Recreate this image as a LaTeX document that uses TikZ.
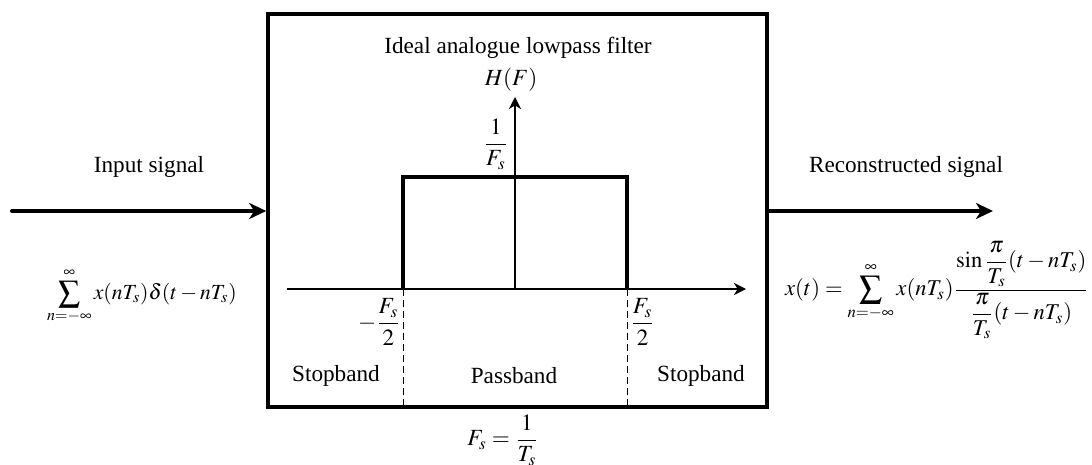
\documentclass[tikz,border=0pt]{standalone}
\usepackage{amsmath}
\usepackage{mathptmx}
\usepackage[no-math]{fontspec}
\setmainfont{Liberation Serif}
\usetikzlibrary{arrows.meta}
\begin{document}
\begin{tikzpicture}[x=0.5pt,y=-0.5pt,
  font=\fontsize{11.6}{14}\selectfont,
  lbl/.style={inner sep=0pt},
  sig/.style={line width=2pt,line cap=round,-{Stealth[length=8.5pt,width=8pt,inset=2.5pt]}},
  axis/.style={line width=1pt,-{Stealth[length=6pt,width=6pt,inset=1.8pt]}},
  resp/.style={line width=1.8pt},
  band/.style={line width=0.5pt,dash pattern=on 3.5pt off 2pt}]
\useasboundingbox (0,0) rectangle (1092,465);
% filter box
\node[draw,line width=1.8pt,minimum width=249.5pt,minimum height=196.5pt,inner sep=0pt] (filter) at (517.5,210.5) {};
% signals
\coordinate (inS) at (12,211);
\coordinate (outE) at (993,211);
\draw[sig] (inS) -- (inS -| filter.west);
\draw[sig] (outE -| filter.east) -- (outE);
% axes
\coordinate (o) at (515,289);
\coordinate (xl) at (287,289);
\coordinate (xr) at (746,289);
\coordinate (yt) at (515,97);
\draw[axis] (xl) -- (xr);
\draw[axis] (o) -- (yt);
% response
\coordinate (a) at (403,289);
\coordinate (b) at (403,177);
\coordinate (c) at (627,177);
\coordinate (d) at (627,289);
\draw[resp] (a) -- (b) -- (c) -- (d);
\draw[band] (a) -- (a |- filter.south);
\draw[band] (d) -- (d |- filter.south);
% texts
\node[lbl] (title) at (518,48) {Ideal analogue lowpass filter};
\node[lbl] (hf) at (511,80) {$H(F)$};
\node[lbl] (amp) at (496,144) {$\dfrac{1}{F_s}$};
\node[lbl,anchor=east] (fl) at (401,322) {$-\dfrac{F_s}{2}$};
\node[lbl,anchor=west] (fr) at (630,322) {$\dfrac{F_s}{2}$};
\node[lbl] (sb1) at (336,376) {Stopband};
\node[lbl] (pb) at (514,376) {Passband};
\node[lbl] (sb2) at (701,376) {Stopband};
\node[lbl] (fs) at (503,440) {$F_s=\dfrac{1}{T_s}$};
\node[lbl] (insig) at (149,167) {Input signal};
\node[lbl] (outsig) at (906,167) {Reconstructed signal};
\node[lbl,font=\fontsize{10.8}{13}\selectfont] (inf) at (142,296) {$\displaystyle\sum_{n=-\infty}^{\infty} x(nT_s)\delta(t-nT_s)$};
\node[lbl,font=\fontsize{11.3}{13}\selectfont] (outf) at (937,290) {$x(t)=\displaystyle\sum_{n=-\infty}^{\infty} x(nT_s)\frac{\sin\dfrac{\pi}{T_s}(t-nT_s)}{\dfrac{\pi}{T_s}(t-nT_s)}$};
\end{tikzpicture}
\end{document}
